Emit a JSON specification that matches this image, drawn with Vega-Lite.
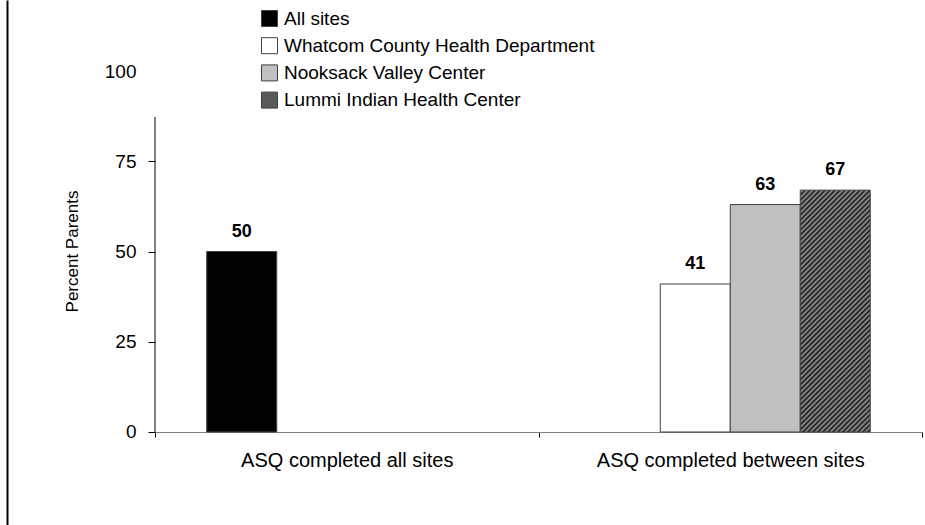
{
  "$schema": "https://vega.github.io/schema/vega-lite/v6.json",
  "width": 767,
  "height": 525,
  "autosize": {"type": "none"},
  "padding": {"left": 155, "top": 0, "right": 3, "bottom": 0},
  "background": "white",
  "config": {
    "view": {"stroke": null},
    "font": "Liberation Sans",
    "axis": {"labelFont": "Liberation Sans", "titleFont": "Liberation Sans", "labelColor": "black", "titleColor": "black", "grid": false},
    "legend": {"labelFont": "Liberation Sans"}
  },
  "data": {
    "values": [
      {"group": "ASQ completed all sites", "site": "All sites", "value": 50},
      {"group": "ASQ completed between sites", "site": "Whatcom County Health Department", "value": 41},
      {"group": "ASQ completed between sites", "site": "Nooksack Valley Center", "value": 63},
      {"group": "ASQ completed between sites", "site": "Lummi Indian Health Center", "value": 67}
    ]
  },
  "resolve": {"axis": {"y": "independent"}},
  "layer": [
    {
      "mark": {"type": "bar", "stroke": "#404040", "strokeWidth": 1},
      "encoding": {
        "x": {
          "field": "group", "type": "nominal",
          "scale": {"domain": ["ASQ completed all sites", "ASQ completed between sites"], "paddingInner": 0, "paddingOuter": 0},
          "axis": {"orient": "bottom", "offset": -93, "title": null, "labelAngle": 0, "labelFontSize": 20, "labelPadding": 13, "tickBand": "extent", "tickSize": 5, "tickColor": "black", "domainColor": "#808080", "labelLimit": 400}
        },
        "xOffset": {
          "field": "site", "type": "nominal",
          "scale": {"domain": ["All sites", "Whatcom County Health Department", "Nooksack Valley Center", "Lummi Indian Health Center"], "paddingInner": 0, "paddingOuter": 0.739}
        },
        "y": {
          "field": "value", "type": "quantitative",
          "scale": {"domain": [-25.762, 119.668], "nice": false, "zero": false},
          "axis": {
            "orient": "left", "values": [0, 25, 50, 75, 100], "domain": false,
            "tickSize": 7, "tickColor": "black",
            "tickOpacity": {"condition": {"test": "datum.value === 100", "value": 0}, "value": 1},
            "labelFontSize": 19, "labelPadding": 12,
            "title": "Percent Parents", "titleFontSize": 17, "titleFontWeight": "normal",
            "titleX": -74, "titleY": 251
          }
        },
        "y2": {"datum": 0},
        "fill": {
          "condition": {
            "test": "datum.site === 'Lummi Indian Health Center'",
            "value": {
              "gradient": "linear", "x1": 0, "y1": 0, "x2": 0.3443, "y2": 1.1897,
              "stops": [
                {"offset": 0, "color": "#141414"}, {"offset": 0.008, "color": "#9a9a9a"}, {"offset": 0.016, "color": "#141414"}, {"offset": 0.024, "color": "#9a9a9a"},
                {"offset": 0.032, "color": "#141414"}, {"offset": 0.04, "color": "#9a9a9a"}, {"offset": 0.048, "color": "#141414"}, {"offset": 0.056, "color": "#9a9a9a"},
                {"offset": 0.064, "color": "#141414"}, {"offset": 0.072, "color": "#9a9a9a"}, {"offset": 0.08, "color": "#141414"}, {"offset": 0.088, "color": "#9a9a9a"},
                {"offset": 0.096, "color": "#141414"}, {"offset": 0.104, "color": "#9a9a9a"}, {"offset": 0.112, "color": "#141414"}, {"offset": 0.12, "color": "#9a9a9a"},
                {"offset": 0.128, "color": "#141414"}, {"offset": 0.136, "color": "#9a9a9a"}, {"offset": 0.144, "color": "#141414"}, {"offset": 0.152, "color": "#9a9a9a"},
                {"offset": 0.16, "color": "#141414"}, {"offset": 0.168, "color": "#9a9a9a"}, {"offset": 0.176, "color": "#141414"}, {"offset": 0.184, "color": "#9a9a9a"},
                {"offset": 0.192, "color": "#141414"}, {"offset": 0.2, "color": "#9a9a9a"}, {"offset": 0.208, "color": "#141414"}, {"offset": 0.216, "color": "#9a9a9a"},
                {"offset": 0.224, "color": "#141414"}, {"offset": 0.232, "color": "#9a9a9a"}, {"offset": 0.24, "color": "#141414"}, {"offset": 0.248, "color": "#9a9a9a"},
                {"offset": 0.256, "color": "#141414"}, {"offset": 0.264, "color": "#9a9a9a"}, {"offset": 0.272, "color": "#141414"}, {"offset": 0.28, "color": "#9a9a9a"},
                {"offset": 0.288, "color": "#141414"}, {"offset": 0.296, "color": "#9a9a9a"}, {"offset": 0.304, "color": "#141414"}, {"offset": 0.312, "color": "#9a9a9a"},
                {"offset": 0.32, "color": "#141414"}, {"offset": 0.328, "color": "#9a9a9a"}, {"offset": 0.336, "color": "#141414"}, {"offset": 0.344, "color": "#9a9a9a"},
                {"offset": 0.352, "color": "#141414"}, {"offset": 0.36, "color": "#9a9a9a"}, {"offset": 0.368, "color": "#141414"}, {"offset": 0.376, "color": "#9a9a9a"},
                {"offset": 0.384, "color": "#141414"}, {"offset": 0.392, "color": "#9a9a9a"}, {"offset": 0.4, "color": "#141414"}, {"offset": 0.408, "color": "#9a9a9a"},
                {"offset": 0.416, "color": "#141414"}, {"offset": 0.424, "color": "#9a9a9a"}, {"offset": 0.432, "color": "#141414"}, {"offset": 0.44, "color": "#9a9a9a"},
                {"offset": 0.448, "color": "#141414"}, {"offset": 0.456, "color": "#9a9a9a"}, {"offset": 0.464, "color": "#141414"}, {"offset": 0.472, "color": "#9a9a9a"},
                {"offset": 0.48, "color": "#141414"}, {"offset": 0.488, "color": "#9a9a9a"}, {"offset": 0.496, "color": "#141414"}, {"offset": 0.504, "color": "#9a9a9a"},
                {"offset": 0.512, "color": "#141414"}, {"offset": 0.52, "color": "#9a9a9a"}, {"offset": 0.528, "color": "#141414"}, {"offset": 0.536, "color": "#9a9a9a"},
                {"offset": 0.544, "color": "#141414"}, {"offset": 0.552, "color": "#9a9a9a"}, {"offset": 0.56, "color": "#141414"}, {"offset": 0.568, "color": "#9a9a9a"},
                {"offset": 0.576, "color": "#141414"}, {"offset": 0.584, "color": "#9a9a9a"}, {"offset": 0.592, "color": "#141414"}, {"offset": 0.6, "color": "#9a9a9a"},
                {"offset": 0.608, "color": "#141414"}, {"offset": 0.616, "color": "#9a9a9a"}, {"offset": 0.624, "color": "#141414"}, {"offset": 0.632, "color": "#9a9a9a"},
                {"offset": 0.64, "color": "#141414"}, {"offset": 0.648, "color": "#9a9a9a"}, {"offset": 0.656, "color": "#141414"}, {"offset": 0.664, "color": "#9a9a9a"},
                {"offset": 0.672, "color": "#141414"}, {"offset": 0.68, "color": "#9a9a9a"}, {"offset": 0.688, "color": "#141414"}, {"offset": 0.696, "color": "#9a9a9a"},
                {"offset": 0.704, "color": "#141414"}, {"offset": 0.712, "color": "#9a9a9a"}, {"offset": 0.72, "color": "#141414"}, {"offset": 0.728, "color": "#9a9a9a"},
                {"offset": 0.736, "color": "#141414"}, {"offset": 0.744, "color": "#9a9a9a"}, {"offset": 0.752, "color": "#141414"}, {"offset": 0.76, "color": "#9a9a9a"},
                {"offset": 0.768, "color": "#141414"}, {"offset": 0.776, "color": "#9a9a9a"}, {"offset": 0.784, "color": "#141414"}, {"offset": 0.792, "color": "#9a9a9a"},
                {"offset": 0.8, "color": "#141414"}, {"offset": 0.808, "color": "#9a9a9a"}, {"offset": 0.816, "color": "#141414"}, {"offset": 0.824, "color": "#9a9a9a"},
                {"offset": 0.832, "color": "#141414"}, {"offset": 0.84, "color": "#9a9a9a"}, {"offset": 0.848, "color": "#141414"}, {"offset": 0.856, "color": "#9a9a9a"},
                {"offset": 0.864, "color": "#141414"}, {"offset": 0.872, "color": "#9a9a9a"}, {"offset": 0.88, "color": "#141414"}, {"offset": 0.888, "color": "#9a9a9a"},
                {"offset": 0.896, "color": "#141414"}, {"offset": 0.904, "color": "#9a9a9a"}, {"offset": 0.912, "color": "#141414"}, {"offset": 0.92, "color": "#9a9a9a"},
                {"offset": 0.928, "color": "#141414"}, {"offset": 0.936, "color": "#9a9a9a"}, {"offset": 0.944, "color": "#141414"}, {"offset": 0.952, "color": "#9a9a9a"},
                {"offset": 0.96, "color": "#141414"}, {"offset": 0.968, "color": "#9a9a9a"}, {"offset": 0.976, "color": "#141414"}, {"offset": 0.984, "color": "#9a9a9a"},
                {"offset": 0.992, "color": "#141414"}, {"offset": 1, "color": "#9a9a9a"}
              ]
            }
          },
          "field": "site", "type": "nominal",
          "scale": {
            "domain": ["All sites", "Whatcom County Health Department", "Nooksack Valley Center", "Lummi Indian Health Center"],
            "range": ["#000000", "#ffffff", "#c0c0c0", "#5a5a5a"]
          },
          "legend": {
            "orient": "none", "legendX": 105, "legendY": 9, "title": null, "padding": 0,
            "symbolType": "square", "symbolSize": 256, "symbolStrokeColor": "#404040", "symbolStrokeWidth": 1,
            "labelFontSize": 19, "labelColor": "black", "labelLimit": 500, "labelOffset": 5, "rowPadding": 6.2,
            "encode": {
              "symbols": {
                "update": {
                  "fill": [
                    {
                      "test": "datum.value === 'Lummi Indian Health Center'",
                      "value": {
                        "gradient": "linear", "x1": 0, "y1": 0, "x2": 1, "y2": 1,
                        "stops": [
                          {"offset": 0, "color": "#141414"}, {"offset": 0.0714, "color": "#9a9a9a"}, {"offset": 0.1429, "color": "#141414"},
                          {"offset": 0.2143, "color": "#9a9a9a"}, {"offset": 0.2857, "color": "#141414"}, {"offset": 0.3571, "color": "#9a9a9a"},
                          {"offset": 0.4286, "color": "#141414"}, {"offset": 0.5, "color": "#9a9a9a"}, {"offset": 0.5714, "color": "#141414"},
                          {"offset": 0.6429, "color": "#9a9a9a"}, {"offset": 0.7143, "color": "#141414"}, {"offset": 0.7857, "color": "#9a9a9a"},
                          {"offset": 0.8571, "color": "#141414"}, {"offset": 0.9286, "color": "#9a9a9a"}, {"offset": 1, "color": "#141414"}
                        ]
                      }
                    },
                    {"scale": "fill", "field": "value"}
                  ],
                  "stroke": {"value": "#404040"}
                }
              }
            }
          }
        }
      }
    },
    {
      "transform": [{"filter": "datum.site === 'All sites'"}],
      "mark": {"type": "rule", "color": "black", "strokeWidth": 1},
      "encoding": {
        "x": {"field": "group", "type": "nominal", "bandPosition": 0},
        "y": {
          "datum": 0,
          "axis": {"orient": "left", "offset": 148, "domain": true, "domainColor": "black", "domainWidth": 2, "ticks": false, "labels": false, "title": null, "grid": false}
        },
        "y2": {"datum": 87.26}
      }
    },
    {
      "mark": {"type": "text", "font": "Liberation Sans", "fontWeight": "bold", "fontSize": 18, "color": "black", "baseline": "alphabetic", "dy": -15},
      "encoding": {
        "x": {"field": "group", "type": "nominal"},
        "xOffset": {"field": "site", "type": "nominal"},
        "y": {"field": "value", "type": "quantitative", "axis": null},
        "text": {"field": "value", "type": "quantitative"}
      }
    }
  ]
}
